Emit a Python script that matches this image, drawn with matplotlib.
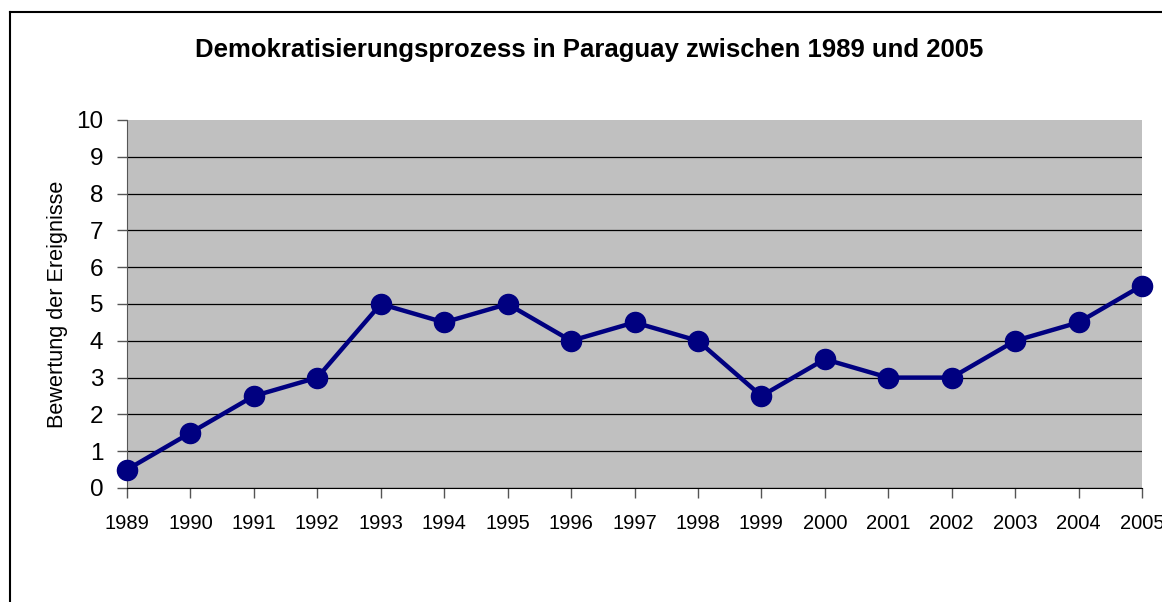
import matplotlib
matplotlib.use("Agg")
import matplotlib.pyplot as plt
from matplotlib.lines import Line2D

years = [1989, 1990, 1991, 1992, 1993, 1994, 1995, 1996, 1997, 1998,
         1999, 2000, 2001, 2002, 2003, 2004, 2005]
values = [0.5, 1.5, 2.5, 3, 5, 4.5, 5, 4, 4.5, 4, 2.5, 3.5, 3, 3, 4, 4.5, 5.5]
yticks = list(range(0, 11))

plt.rcParams['font.family'] = ['Liberation Sans', 'DejaVu Sans']

fig = plt.figure(figsize=(11.62, 6.02), dpi=100)
ax = fig.add_axes([127/1162, 1-488/602, (1142-127)/1162, (488-120)/602])
ax.set_facecolor('#C0C0C0')

x = list(range(len(years)))
ax.plot(x, values, color='#000080', lw=3.2, marker='o', ms=14.5,
        clip_on=False, zorder=5)

ax.set_xlim(0, len(years)-1)
ax.set_ylim(0, 10)
ax.set_yticks(yticks)
ax.set_yticklabels([str(t) for t in yticks], fontsize=17.5)
ax.set_xticks(x)
ax.set_xticklabels([str(y) for y in years], fontsize=14.5)
ax.yaxis.grid(True, color='black', lw=0.9)
ax.get_ygridlines()[-1].set_visible(False)
ax.set_axisbelow(True)
for s in ['top', 'right']:
    ax.spines[s].set_visible(False)
ax.spines['left'].set_color('#555555')
ax.spines['bottom'].set_color('black')
ax.tick_params(axis='y', length=7, width=1, color='#555555', pad=10)
ax.tick_params(axis='x', length=7, width=1, color='#555555', pad=12)
ax.set_ylabel('Bewertung der Ereignisse', fontsize=15.6, labelpad=6)

fig.text(589/1162, 1-50/602, 'Demokratisierungsprozess in Paraguay zwischen 1989 und 2005',
         ha='center', va='center', fontsize=18.5, fontweight='bold')

fig.add_artist(Line2D([10/1162, 10/1162], [0, 1-12/602], color='black', lw=1.5,
                      transform=fig.transFigure))
fig.add_artist(Line2D([10/1162, 1], [1-12/602, 1-12/602], color='black', lw=1.5,
                      transform=fig.transFigure))

fig.savefig('out.png', dpi=100)
